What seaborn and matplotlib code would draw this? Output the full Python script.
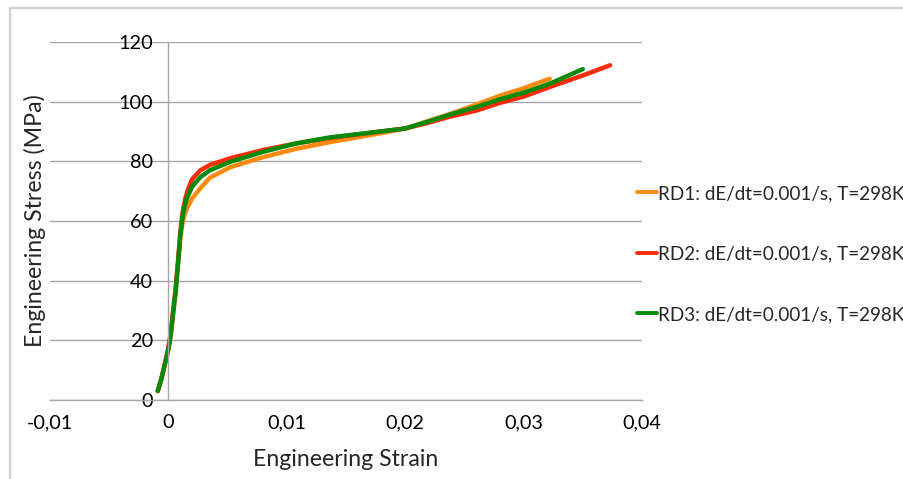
import pandas as pd
import numpy as np
import matplotlib
matplotlib.use("Agg")
import matplotlib.pyplot as plt
import seaborn as sns
from matplotlib.patches import Rectangle
from matplotlib.lines import Line2D

# Stress-strain curves
strain_rd1 = [-0.0009, -0.0006, -0.0003, 0.0, 0.0002, 0.0004, 0.0006, 0.0008, 0.001, 0.0012,
              0.0014, 0.0016, 0.002, 0.0027, 0.0035, 0.0052, 0.008, 0.0108, 0.0136, 0.0179,
              0.02, 0.022, 0.0238, 0.026, 0.028, 0.03, 0.0322]
stress_rd1 = [3, 7, 12, 17, 22, 29, 36, 45, 54, 59.5,
              62.5, 64.5, 67.5, 71, 74.5, 78, 81.4, 84.2, 86.4, 89.4,
              91, 93.6, 95.9, 99, 102, 104.5, 107.7]

strain_rd2 = [-0.0009, -0.0006, -0.0003, 0.0, 0.0002, 0.0004, 0.0006, 0.0008, 0.001, 0.0012,
              0.0014, 0.0016, 0.002, 0.0027, 0.0035, 0.0052, 0.008, 0.0108, 0.0136, 0.0179,
              0.02, 0.022, 0.0238, 0.026, 0.028, 0.03, 0.0322, 0.035, 0.0373]
stress_rd2 = [3, 7, 12, 17.5, 22.5, 30, 37, 46, 56, 63,
              67, 70, 74, 77, 78.8, 81, 83.8, 86, 87.8, 90,
              91, 93, 95, 97, 99.6, 101.7, 104.9, 108.8, 112.2]

strain_rd3 = [-0.0009, -0.0006, -0.0003, 0.0, 0.0002, 0.0004, 0.0006, 0.0008, 0.001, 0.0012,
              0.0014, 0.0016, 0.002, 0.0027, 0.0035, 0.0052, 0.008, 0.0108, 0.0136, 0.0179,
              0.02, 0.022, 0.0238, 0.026, 0.028, 0.03, 0.0322, 0.035]
stress_rd3 = [3, 7, 12, 17, 22, 29, 36, 45, 55, 61.5,
              65.5, 68, 71.5, 74.7, 77, 79.8, 83.2, 86, 88, 90,
              91, 93.4, 95.7, 98.2, 100.8, 103, 106, 110.9]

series_names = ["RD1: dE/dt=0.001/s, T=298K",
                "RD2: dE/dt=0.001/s, T=298K",
                "RD3: dE/dt=0.001/s, T=298K"]
series_colors = ["#ff8a10", "#ff2a0a", "#0a8a0a"]

x_ticks = [-0.01, 0.0, 0.01, 0.02, 0.03, 0.04]
x_tick_labels = ["-0,01", "0", "0,01", "0,02", "0,03", "0,04"]
y_ticks = [0, 20, 40, 60, 80, 100, 120]

frames = []
for name, xs, ys in zip(series_names,
                        [strain_rd1, strain_rd2, strain_rd3],
                        [stress_rd1, stress_rd2, stress_rd3]):
    frames.append(pd.DataFrame({"strain": xs, "stress": ys, "series": name}))
df = pd.concat(frames, ignore_index=True)

sns.set_style("white")
plt.rcParams['font.family'] = ['Lato', 'DejaVu Sans']

fig = plt.figure(figsize=(9.04, 4.79), dpi=100)
ax = fig.add_axes([50 / 904, 1 - 400 / 479, 592 / 904, 358 / 479])

sns.lineplot(data=df, x="strain", y="stress", hue="series", palette=series_colors,
             sort=False, estimator=None, linewidth=3.2, ax=ax, legend=False)

ax.set_xlim(-0.01, 0.04)
ax.set_ylim(0, 120)
ax.set_xticks(x_ticks)
ax.set_xticklabels(x_tick_labels)
ax.set_yticks(y_ticks)

grid_color = "#a6a6a6"
ax.yaxis.grid(True, color=grid_color, linewidth=1)
ax.xaxis.grid(False)
ax.set_axisbelow(True)
for side in ["top", "right"]:
    ax.spines[side].set_visible(False)
ax.spines["left"].set_position(("data", 0))
ax.spines["left"].set_color(grid_color)
ax.spines["bottom"].set_color(grid_color)
ax.spines["left"].set_linewidth(1)
ax.spines["bottom"].set_linewidth(1)

ax.tick_params(axis="both", which="major", direction="out", length=6, width=1,
               color=grid_color, labelsize=14.3, labelcolor="black")
ax.tick_params(axis="y", pad=5)
ax.tick_params(axis="x", pad=4)

ax.set_xlabel("Engineering Strain", fontsize=16.7)
ax.set_ylabel("Engineering Stress (MPa)", fontsize=16.7)
ax.yaxis.set_label_coords(-0.006, 0.5)
ax.xaxis.set_label_coords(0.5, -0.136)

handles = [Line2D([0], [0], color=c, lw=2.8) for c in series_colors]
fig.legend(handles, series_names, loc="upper left",
           bbox_to_anchor=(637 / 904, 1 - 185 / 479), frameon=False,
           fontsize=13.6, handlelength=1.05, handletextpad=0.05, labelspacing=2.3,
           borderaxespad=0, borderpad=0)

# light frame around the chart area
fig.add_artist(Rectangle((10 / 904, -0.1), 1.2, 1.1 - 8 / 479, transform=fig.transFigure,
                         fill=False, edgecolor="#d0d0d0", linewidth=1.6))

fig.savefig("out.png", dpi=100)
